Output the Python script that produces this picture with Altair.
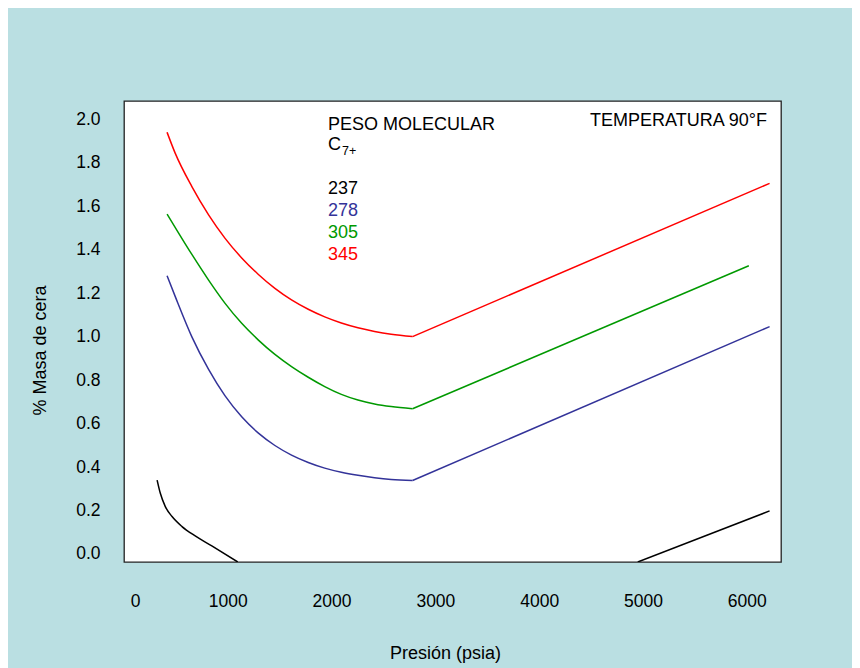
import altair as alt
import pandas as pd

# ---- data ----
series_labels = ["237", "278", "305", "345"]
series_colors = ["#000000", "#333399", "#009900", "#ff0000"]

# Peso molecular 237 (two visible pieces)
p237a = [319, 350, 398, 463, 559, 686, 846, 1096]
w237a = [0.34, 0.279, 0.218, 0.172, 0.126, 0.083, 0.037, -0.037]
p237b = [4950, 6220]
w237b = [-0.037, 0.198]

# Peso molecular 278: curved branch, then straight branch
p278c = [415, 494, 654, 815, 974, 1134, 1295, 1454, 1614, 1775, 1934, 2094, 2254, 2414, 2574, 2780]
w278c = [1.28, 1.184, 0.999, 0.849, 0.727, 0.631, 0.556, 0.499, 0.455, 0.421, 0.395, 0.376, 0.362, 0.351, 0.343, 0.338]
p278s = [2780, 6220]
w278s = [0.338, 1.046]

# Peso molecular 305
p305c = [415, 654, 815, 974, 1134, 1295, 1454, 1614, 1775, 1934, 2094, 2254, 2414, 2574, 2780]
w305c = [1.564, 1.378, 1.26, 1.153, 1.061, 0.984, 0.918, 0.862, 0.813, 0.770, 0.734, 0.708, 0.690, 0.678, 0.668]
p305s = [2780, 6020]
w305s = [0.668, 1.326]

# Peso molecular 345
p345c = [415, 494, 654, 815, 974, 1134, 1295, 1454, 1614, 1775, 1934, 2094, 2254, 2414, 2574, 2780]
w345c = [1.94, 1.843, 1.69, 1.56, 1.452, 1.362, 1.286, 1.222, 1.169, 1.126, 1.091, 1.063, 1.041, 1.024, 1.011, 1.000]
p345s = [2780, 6220]
w345s = [1.000, 1.705]

x_ticks = [0, 1000, 2000, 3000, 4000, 5000, 6000]
y_ticks = [0.0, 0.2, 0.4, 0.6, 0.8, 1.0, 1.2, 1.4, 1.6, 1.8, 2.0]

rows = []
def add(label, seg, part, xs, ys):
    for i, (x, y) in enumerate(zip(xs, ys)):
        rows.append({"serie": label, "seg": seg, "part": part, "i": i, "p": x, "w": y})

add("237", "237a", "curve", p237a, w237a)
add("237", "237b", "straight", p237b, w237b)
add("278", "278c", "curve", p278c, w278c)
add("278", "278s", "straight", p278s, w278s)
add("305", "305c", "curve", p305c, w305c)
add("305", "305s", "straight", p305s, w305s)
add("345", "345c", "curve", p345c, w345c)
add("345", "345s", "straight", p345s, w345s)
df = pd.DataFrame(rows)

FONT = "Liberation Sans"
BG = "#badfe2"

x_enc = alt.X(
    "p:Q",
    scale=alt.Scale(domain=[0, 6330], nice=False, zero=False),
    axis=alt.Axis(
        values=x_ticks, format="d", title="Presión (psia)", grid=False,
        domain=False, ticks=False, tickSize=0, labelPadding=30,
        labelFlush=False,
        labelOffset={"condition": {"test": "datum.value == 0", "value": 11}, "value": 0},
        titleX=321, titleY=91, titleBaseline="middle", titleAlign="center",
    ),
)
y_enc = alt.Y(
    "w:Q",
    scale=alt.Scale(domain=[-0.037, 2.084], nice=False, zero=False),
    axis=alt.Axis(
        values=y_ticks, format=".1f", title="% Masa de cera", grid=False,
        domain=False, ticks=False, tickSize=0, labelPadding=24,
        labelFlush=False,
        titleX=-84, titleY=249, titleBaseline="middle", titleAlign="center",
    ),
)
color_enc = alt.Color(
    "serie:N", scale=alt.Scale(domain=series_labels, range=series_colors), legend=None
)

curves = alt.Chart(df).transform_filter(alt.datum.part == "curve").mark_line(
    strokeWidth=1.5, clip=True, interpolate="monotone"
).encode(x=x_enc, y=y_enc, color=color_enc, detail="seg:N", order="i:Q")

straights = alt.Chart(df).transform_filter(alt.datum.part == "straight").mark_line(
    strokeWidth=1.5, clip=True
).encode(x="p:Q", y="w:Q", color=color_enc, detail="seg:N", order="i:Q")

one = pd.DataFrame({"k": [0]})

def txt(text, x, y, size=18, color="black", align="left"):
    return alt.Chart(one).mark_text(
        font=FONT, fontSize=size, color=color, align=align, baseline="alphabetic"
    ).encode(x=alt.value(x), y=alt.value(y), text=alt.value(text))

annots = [
    txt("PESO MOLECULAR", 204, 29),
    txt("C", 204, 49),
    txt("7+", 218, 54, size=12.5),
    txt("TEMPERATURA 90°F", 643, 25, align="right"),
]
legend_y = [93, 115, 137, 159]
for lab, col, yy in zip(series_labels, series_colors, legend_y):
    annots.append(txt(lab, 204, yy, color=col))

chart = alt.layer(curves, straights, *annots).properties(
    width=657, height=461,
    padding={"left": 116, "top": 93, "right": 71, "bottom": 106},
    autosize=alt.AutoSizeParams(type="none"),
).configure(background=BG).configure_view(
    stroke="#222222", strokeWidth=1.3, fill="white"
).configure_axis(
    labelFont=FONT, labelFontSize=17.5, labelColor="black",
    titleFont=FONT, titleFontSize=18, titleColor="black", titleFontWeight="normal",
)

chart.save("out.html", embed_options={"renderer": "svg", "actions": False})
